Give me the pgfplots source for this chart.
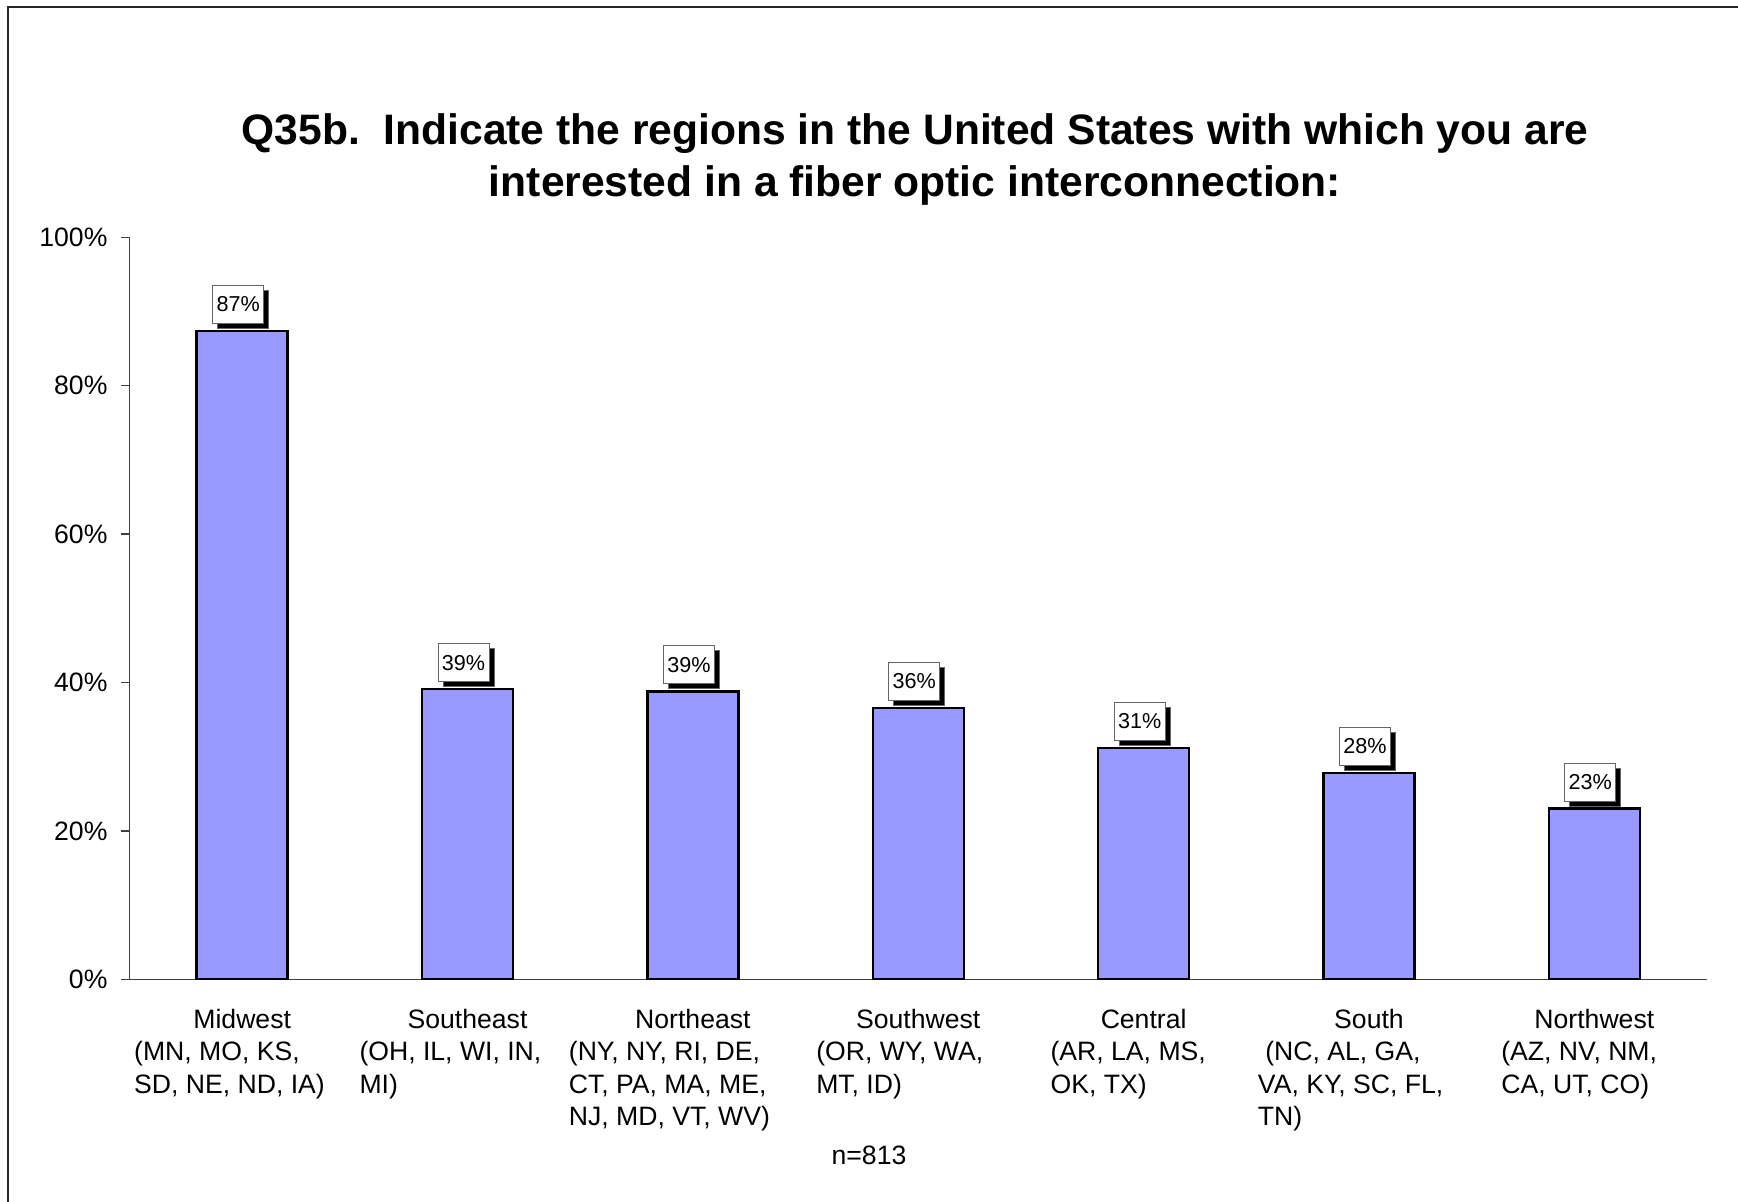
\documentclass[border=0pt]{standalone}
\usepackage{fontspec}
\setmainfont{Liberation Sans}
\usepackage{pgfplots}
\pgfplotsset{compat=1.18}
\usetikzlibrary{shadows}
\definecolor{barblue}{RGB}{153,153,255}
\newcommand\catlab[3]{\begin{tabular}[t]{@{}c@{}}\makebox[0pt][c]{#2}\\\makebox[0pt][l]{\hspace*{#1}\begin{tabular}[t]{@{}l@{}}#3\end{tabular}}\end{tabular}}
\begin{document}
\begin{tikzpicture}
\useasboundingbox (0,0) rectangle (869pt,600.5pt);
\draw[line width=1pt, black!85] (4pt,-5pt) -- (4pt,597pt) -- (880pt,597pt);
\node[anchor=base, font=\bfseries\fontsize{21.3}{24}\selectfont] at (457.5pt,528pt) {Q35b.\ \ Indicate the regions in the United States with which you are};
\node[anchor=base, font=\bfseries\fontsize{21.3}{24}\selectfont] at (457.5pt,502pt) {interested in a fiber optic interconnection:};
\node[anchor=base, font=\fontsize{13.3}{16}\selectfont] at (434.5pt,18.5pt) {n=813};
\begin{axis}[
  at={(64.75pt,110.85pt)}, anchor=south west,
  scale only axis, width=788.75pt, height=371pt,
  xmin=-0.5, xmax=6.5, ymin=0, ymax=100,
  axis x line=bottom, axis y line=left,
  axis line style={-, black!75, line width=0.7pt},
  ytick={0,20,40,60,80,100},
  yticklabels={0\%,20\%,40\%,60\%,80\%,100\%},
  xtick={0,1,2,3,4,5,6},
  minor xtick={-0.5,0.5,1.5,2.5,3.5,4.5,5.5,6.5},
  tick align=outside,
  major tick length=4pt, minor tick length=4pt,
  xtick style={draw=none},
  minor x tick style={black!75, line width=0.7pt},
  ytick style={black!75, line width=0.7pt},
  yticklabel style={font=\fontsize{13.3}{16}\selectfont, xshift=-3.5pt},
  xticklabel style={font=\fontsize{13.3}{16.2}\selectfont, anchor=north, yshift=-5.7pt},
  xticklabels={
    {\catlab{-54pt}{Midwest}{(MN, MO, KS,\\SD, NE, ND, IA)}},
    {\catlab{-54pt}{Southeast}{(OH, IL, WI, IN,\\MI)}},
    {\catlab{-62pt}{Northeast}{(NY, NY, RI, DE,\\CT, PA, MA, ME,\\NJ, MD, VT, WV)}},
    {\catlab{-51pt}{Southwest}{(OR, WY, WA,\\MT, ID)}},
    {\catlab{-46.5pt}{Central}{(AR, LA, MS,\\OK, TX)}},
    {\catlab{-55.5pt}{South}{\ (NC, AL, GA,\\VA, KY, SC, FL,\\TN)}},
    {\catlab{-46.5pt}{Northwest}{(AZ, NV, NM,\\CA, UT, CO)}}
  },
  ybar, bar width=45.5pt,
  point meta=explicit symbolic,
  nodes near coords={\pgfplotspointmeta},
  every node near coord/.append style={
    font=\fontsize{10.8}{12}\selectfont, anchor=south, yshift=3.5pt, xshift=-2pt,
    draw=black!60, line width=0.5pt, fill=white, inner sep=1pt,
    minimum width=25.5pt, minimum height=19pt,
    drop shadow={shadow xshift=2.5pt, shadow yshift=-2.5pt, opacity=1, fill=black}
  },
]
\addplot[fill=barblue, draw=black, line width=1.2pt] coordinates {
  (0,87.4) [87\%]
  (1,39.1) [39\%]
  (2,38.8) [39\%]
  (3,36.6) [36\%]
  (4,31.2) [31\%]
  (5,27.8) [28\%]
  (6,23.0) [23\%]
};
\end{axis}
\end{tikzpicture}
\end{document}
